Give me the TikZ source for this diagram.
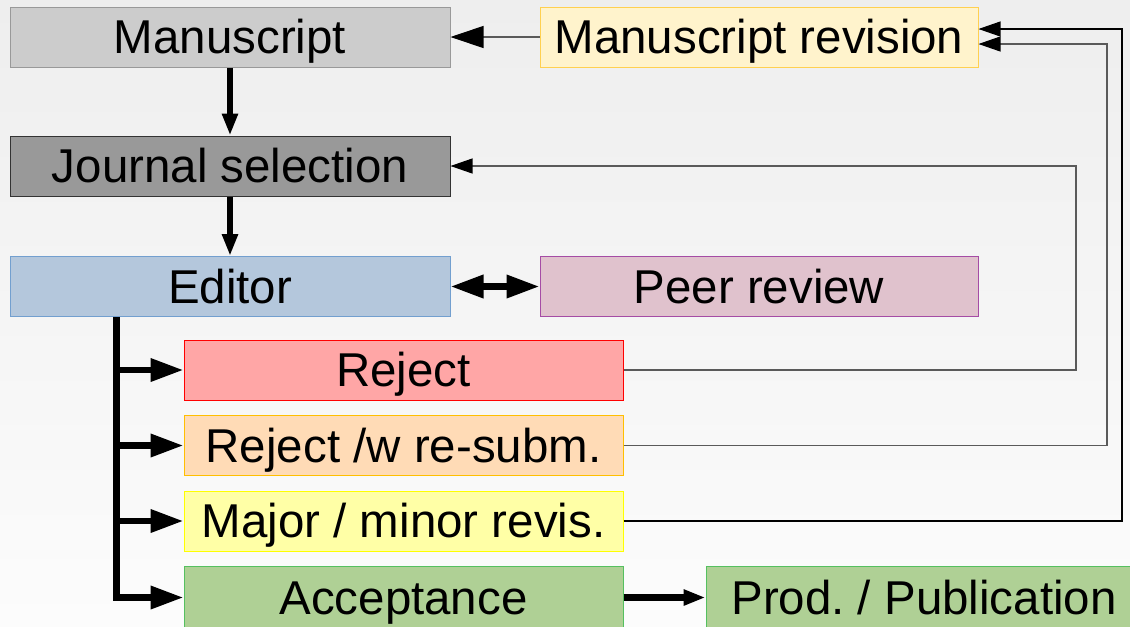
\documentclass[tikz,border=0pt]{standalone}
\usepackage{fontspec}
\setmainfont{Liberation Sans}
\usetikzlibrary{arrows.meta,calc}
\frenchspacing
\definecolor{bgtop}{HTML}{EEEEEE}
\definecolor{bgbot}{HTML}{FCFCFC}
\definecolor{msfill}{HTML}{CCCCCC}
\definecolor{msdraw}{HTML}{999999}
\definecolor{revfill}{HTML}{FFF3CC}
\definecolor{revdraw}{HTML}{FFD050}
\definecolor{jsfill}{HTML}{999999}
\definecolor{jsdraw}{HTML}{333333}
\definecolor{edfill}{HTML}{B4C7DC}
\definecolor{eddraw}{HTML}{729FCF}
\definecolor{prfill}{HTML}{E0C2CD}
\definecolor{prdraw}{HTML}{A54CA5}
\definecolor{rjfill}{HTML}{FFA6A6}
\definecolor{rjdraw}{HTML}{FF0000}
\definecolor{rwfill}{HTML}{FFDBB6}
\definecolor{rwdraw}{HTML}{FFBF00}
\definecolor{mjfill}{HTML}{FFFFA6}
\definecolor{mjdraw}{HTML}{FFFF00}
\definecolor{acfill}{HTML}{AFD095}
\definecolor{acdraw}{HTML}{55C060}
\definecolor{thingray}{HTML}{5A5A5A}
\tikzset{
  bigtip/.tip={Triangle[length=24.75pt,width=16.5pt,color=black]},
  smalltip/.tip={Triangle[length=16.5pt,width=11.25pt,color=black]}}
\begin{document}
\begin{tikzpicture}[x=0.75pt,y=-0.75pt,
  box/.style={draw, line width=0.75pt, inner sep=0pt, minimum height=45pt,
    text height=25.4pt, text depth=0pt, font=\fontsize{35.6}{42}\selectfont},
  wide/.style={minimum width=330pt},
  thickline/.style={line width=5pt, draw=black},
  thinline/.style={line width=0.8pt, draw=thingray}]
\useasboundingbox (0,0) rectangle (1130,626);
\clip (0,0) rectangle (1130,626);
\shade[top color=bgtop, bottom color=bgbot] (0,0) rectangle (1130,626);

\node[box, wide, fill=msfill, draw=msdraw] (ms) at (230,37) {Manuscript};
\node[box, minimum width=328.5pt, fill=revfill, draw=revdraw] (rev) at (759,37) {Manuscript revision};
\node[box, wide, fill=jsfill, draw=jsdraw] (js) at (230,166) {Journal selection};
\node[box, wide, fill=edfill, draw=eddraw] (ed) at (230,286.5) {Editor};
\node[box, minimum width=328.5pt, fill=prfill, draw=prdraw] (pr) at (759,286.5) {Peer review};
\node[box, minimum width=329.25pt, fill=rjfill, draw=rjdraw] (rj) at (403.5,370) {Reject};
\node[box, minimum width=329.25pt, fill=rwfill, draw=rwdraw] (rw) at (403.5,445.5) {Reject /w re-subm.};
\node[box, minimum width=329.25pt, fill=mjfill, draw=mjdraw] (mj) at (403.5,521) {Major / minor revis.};
\node[box, minimum width=329.25pt, minimum height=46pt, fill=acfill, draw=acdraw] (ac) at (403.5,597.5) {Acceptance};
\node[box, minimum width=327pt, minimum height=46pt, fill=acfill, draw=acdraw] (pp) at (924,597.5) {Prod. / Publication};

% main flow
\draw[thickline, -smalltip] (ms) -- (js);
\draw[thickline, -smalltip] (js) -- (ed);
\draw[thickline, bigtip-bigtip] (ed) -- (pr);
\draw[thinline, -bigtip] (rev) -- (ms);
\draw[thickline, -smalltip] (ac) -- (pp);

% editor decisions
\coordinate (t) at ($(ed.south west)+(107,0)$);
\draw[thickline, -bigtip] (t) |- (rj.west);
\draw[thickline, -bigtip] (t) |- (rw.west);
\draw[thickline, -bigtip] (t) |- (mj.west);
\draw[thickline, -bigtip] (t) |- (ac.west);

% feedback loops
\coordinate (c1) at (1076,166);
\coordinate (c2) at (1107,44);
\coordinate (c3) at (1122,29);
\draw[thinline, -smalltip] (rj.east) -| (c1) -- (js.east);
\draw[thinline, -smalltip] (rw.east) -| (c2) -- (c2 -| rev.east);
\draw[thinline, draw=black, -smalltip] (mj.east) -| (c3) -- (c3 -| rev.east);
\end{tikzpicture}
\end{document}
